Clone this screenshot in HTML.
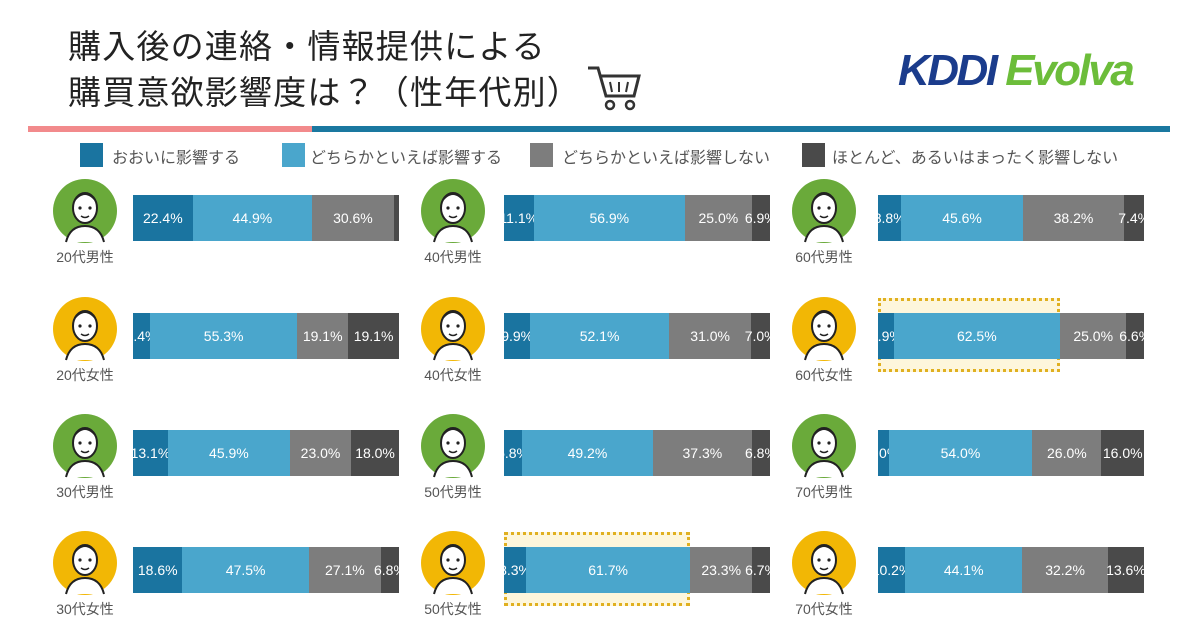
<!DOCTYPE html>
<html><head><meta charset="utf-8"><style>
html,body{margin:0;padding:0;background:#fff;}
body{width:1200px;height:630px;position:relative;overflow:hidden;font-family:"Liberation Sans","Noto Sans CJK JP",sans-serif;}
.abs{position:absolute;}
.title{left:68px;font-size:33px;color:#222;letter-spacing:1.2px;white-space:nowrap;}
.leg-sq{width:23px;height:24px;top:143px;}
.leg-tx{top:144px;font-size:16px;color:#555;white-space:nowrap;}
.lbl{font-size:14px;color:#555;width:80px;text-align:center;}
.seg{position:absolute;top:0;height:100%;}
.pct{position:absolute;top:0;height:100%;line-height:46px;color:#fff;font-size:14px;text-align:center;white-space:nowrap;}
</style></head><body>
<div class="abs title" style="top:20px">購入後の連絡・情報提供による</div>
<div class="abs title" style="top:66px">購買意欲影響度は？（性年代別）</div>
<svg class="abs" style="left:586px;top:62px" width="56" height="50">
<path d="M2 6 H12 L20 34 H48 L53 14 H14" fill="none" stroke="#333" stroke-width="3"/>
<line x1="24" y1="20" x2="26" y2="30" stroke="#333" stroke-width="2"/><line x1="33" y1="20" x2="33" y2="30" stroke="#333" stroke-width="2"/><line x1="42" y1="20" x2="40" y2="30" stroke="#333" stroke-width="2"/>
<circle cx="24" cy="43" r="4" fill="none" stroke="#333" stroke-width="2.5"/><circle cx="44" cy="43" r="4" fill="none" stroke="#333" stroke-width="2.5"/>
</svg>
<div class="abs" style="left:898px;top:46px;font-size:44px;font-weight:bold;font-style:italic;letter-spacing:-2.5px;white-space:nowrap"><span style="color:#1b3c8c">KDDI</span> <span style="color:#6cbd3a">Evolva</span></div>
<div class="abs" style="left:28px;top:126px;width:284px;height:6px;background:#f28a8c"></div>
<div class="abs" style="left:312px;top:126px;width:858px;height:6px;background:#1a78a0"></div>

<div class="abs leg-sq" style="left:80px;background:#1a74a0"></div>
<div class="abs leg-tx" style="left:112px">おおいに影響する</div>
<div class="abs leg-sq" style="left:282px;background:#4aa6cc"></div>
<div class="abs leg-tx" style="left:310px">どちらかといえば影響する</div>
<div class="abs leg-sq" style="left:530px;background:#7d7d7d"></div>
<div class="abs leg-tx" style="left:562px">どちらかといえば影響しない</div>
<div class="abs leg-sq" style="left:802px;background:#4a4a4a"></div>
<div class="abs leg-tx" style="left:832px">ほとんど、あるいはまったく影響しない</div>

<div id="chart"></div>
<script>
const groups = ["20代男性","20代女性","30代男性","30代女性","40代男性","40代女性","50代男性","50代女性","60代男性","60代女性","70代男性","70代女性"];
const strongly = [22.4,6.4,13.1,18.6,11.1,9.9,6.8,8.3,8.8,5.9,4.0,10.2];
const somewhat = [44.9,55.3,45.9,47.5,56.9,52.1,49.2,61.7,45.6,62.5,54.0,44.1];
const somewhatNot = [30.6,19.1,23.0,27.1,25.0,31.0,37.3,23.3,38.2,25.0,26.0,32.2];
const notAtAll = [2.0,19.1,18.0,6.8,6.9,7.0,6.8,6.7,7.4,6.6,16.0,13.6];
const showLabel4 = [false,true,true,true,true,true,true,true,true,true,true,true];
const highlighted = ["50代女性","60代女性"];

const colors = ["#1a74a0","#4aa6cc","#7d7d7d","#4a4a4a"];
const colX = [133,504,878], barW = 266, rowY = [195,313,430,547], barH = 46;
const avX = [85,453,824];
const chart = document.getElementById('chart');
function xScale(v,total){return v/total*barW;}
groups.forEach((g,i)=>{
  const col = Math.floor(i/4), row = i%4;
  const female = g.includes('女');
  const vals = [strongly[i],somewhat[i],somewhatNot[i],notAtAll[i]];
  const total = vals.reduce((a,b)=>a+b,0);
  const cx = avX[col], cy = rowY[row]+16;
  const av = document.createElementNS('http://www.w3.org/2000/svg','svg');
  
  
  av.setAttribute('width','70');av.setAttribute('height','70');
  av.style.cssText='position:absolute;left:'+(cx-35)+'px;top:'+(cy-35)+'px';
  av.innerHTML='<circle cx="35" cy="35" r="32" fill="'+(female?'#f2b705':'#6aaa3a')+'"/>'+
   '<ellipse cx="35" cy="32" rx="12" ry="15" fill="#fff" stroke="#222" stroke-width="2"/>'+
   '<path d="M23 28 Q35 10 47 28 Q44 18 35 17 Q26 18 23 28Z" fill="#222"/>'+
   '<circle cx="30" cy="32" r="1.6" fill="#222"/><circle cx="40" cy="32" r="1.6" fill="#222"/>'+
   '<path d="M31 40 Q35 43 39 40" fill="none" stroke="#222" stroke-width="1.5"/>'+
   '<path d="M16 66 Q20 50 35 50 Q50 50 54 66" fill="#fff" stroke="#222" stroke-width="2"/>';
  chart.appendChild(av);
  const lb = document.createElement('div');
  
  
  lb.className='abs lbl';
  lb.style.left=(cx-40)+'px';lb.style.top=(rowY[row]+52)+'px';
  lb.textContent=g;
  chart.appendChild(lb);
  if(highlighted.includes(g)){
    const h=document.createElement('div');
    
    
    h.className='abs';
    const w=xScale(strongly[i]+somewhat[i],total);
    h.style.cssText='left:'+colX[col]+'px;top:'+(rowY[row]-15)+'px;width:'+w+'px;height:'+(barH+28)+'px;border:3px dotted #e0b020;box-sizing:border-box;background:#fdf6dc;';
    chart.appendChild(h);
  }
  const bar = document.createElement('div');
  
  
  bar.className='abs';
  bar.style.cssText='left:'+colX[col]+'px;top:'+rowY[row]+'px;width:'+barW+'px;height:'+barH+'px;';
  let acc=0;
  vals.forEach((v,k)=>{
    const x=xScale(acc,total), w=xScale(v,total);
    const s=document.createElement('div');
    
    
    s.className='seg';
    s.style.left=x+'px';s.style.width=w+'px';s.style.background=colors[k];
    bar.appendChild(s);
    if(k<3||showLabel4[i]){
      const t=document.createElement('div');
      
      
      t.className='pct';
      t.style.left=(x+w/2-30)+'px';t.style.width='60px';
      t.textContent=v.toFixed(1)+'%';
      bar.appendChild(t);
    }
    acc+=v;
  });
  chart.appendChild(bar);
});
</script>
</body></html>
